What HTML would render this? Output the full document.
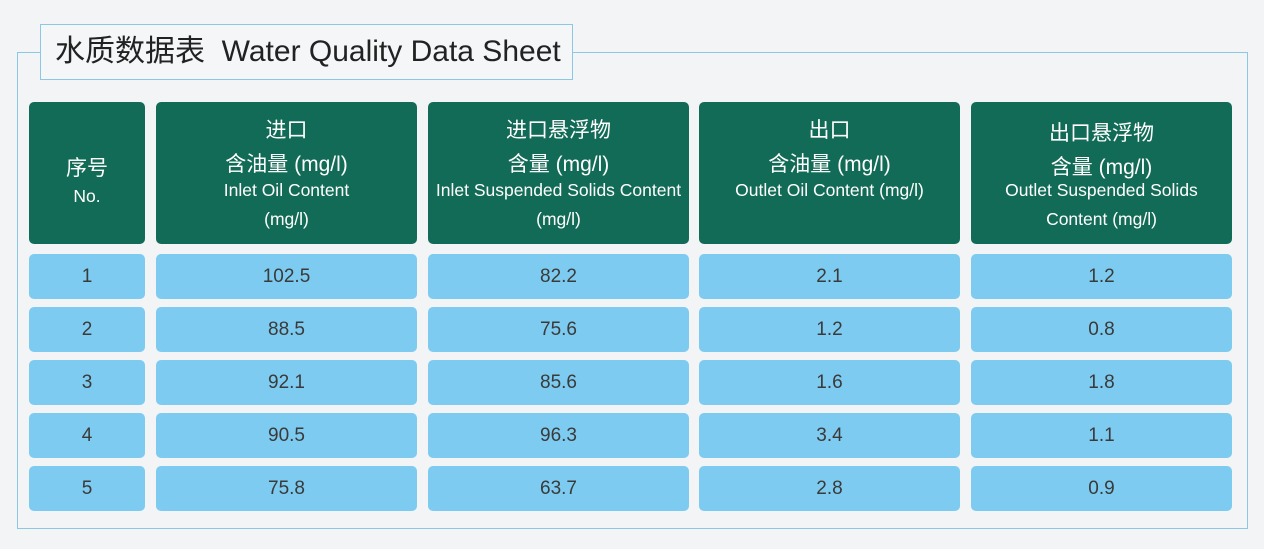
<!DOCTYPE html>
<html><head><meta charset="utf-8"><style>
body{margin:0;width:1264px;height:549px;background:#f2f4f6;position:relative;overflow:hidden;font-family:"Liberation Sans","Noto Sans CJK SC",sans-serif;}
.outer{position:absolute;left:17px;top:52px;width:1231px;height:477px;border:1px solid #8cc8e6;box-sizing:border-box;}
.title{position:absolute;left:40px;top:24px;width:533px;height:56px;border:1px solid #8cc8e6;box-sizing:border-box;background:#f4f6f8;font-size:30px;color:#222;line-height:54px;padding-left:14px;white-space:nowrap;}
.c{position:absolute;border-radius:5px;text-align:center;box-sizing:border-box;}
.h{background:#126b56;color:#fff;top:102px;height:142px;}
.d{background:#7dcbf0;color:#3a3a3a;font-size:19px;height:45px;line-height:45px;}
.l{position:absolute;left:0;right:0;text-align:center;white-space:nowrap;}
.z{font-size:21px;}.e{font-size:17.5px;}
</style></head><body>
<div class="outer"></div>
<div class="title">水质数据表&nbsp; Water Quality Data Sheet</div>
<div class="c h" style="left:29px;width:116px"><div class="l z" style="top:50px">序号</div><div class="l e" style="top:84px">No.</div></div>
<div class="c h" style="left:156px;width:261px"><div class="l z" style="top:12px">进口</div><div class="l z" style="top:46px">含油量 (mg/l)</div><div class="l e" style="top:78px">Inlet Oil Content</div><div class="l e" style="top:107px">(mg/l)</div></div>
<div class="c h" style="left:428px;width:261px"><div class="l z" style="top:12px">进口悬浮物</div><div class="l z" style="top:46px">含量 (mg/l)</div><div class="l e" style="top:78px">Inlet Suspended Solids Content</div><div class="l e" style="top:107px">(mg/l)</div></div>
<div class="c h" style="left:699px;width:261px"><div class="l z" style="top:12px">出口</div><div class="l z" style="top:46px">含油量 (mg/l)</div><div class="l e" style="top:78px">Outlet Oil Content (mg/l)</div></div>
<div class="c h" style="left:971px;width:261px"><div class="l z" style="top:15px">出口悬浮物</div><div class="l z" style="top:49px">含量 (mg/l)</div><div class="l e" style="top:78px">Outlet Suspended Solids</div><div class="l e" style="top:107px">Content (mg/l)</div></div>
<div id="rows"></div>
<script>
var data=[["1","102.5","82.2","2.1","1.2"],["2","88.5","75.6","1.2","0.8"],["3","92.1","85.6","1.6","1.8"],["4","90.5","96.3","3.4","1.1"],["5","75.8","63.7","2.8","0.9"]];
var xs=[[29,116],[156,261],[428,261],[699,261],[971,261]],ys=[254,307,360,413,466],h="";
data.forEach(function(r,i){r.forEach(function(v,j){h+='<div class="c d" style="left:'+xs[j][0]+'px;width:'+xs[j][1]+'px;top:'+ys[i]+'px">'+v+'</div>';});});
document.getElementById("rows").innerHTML=h;
</script>
</body></html>
